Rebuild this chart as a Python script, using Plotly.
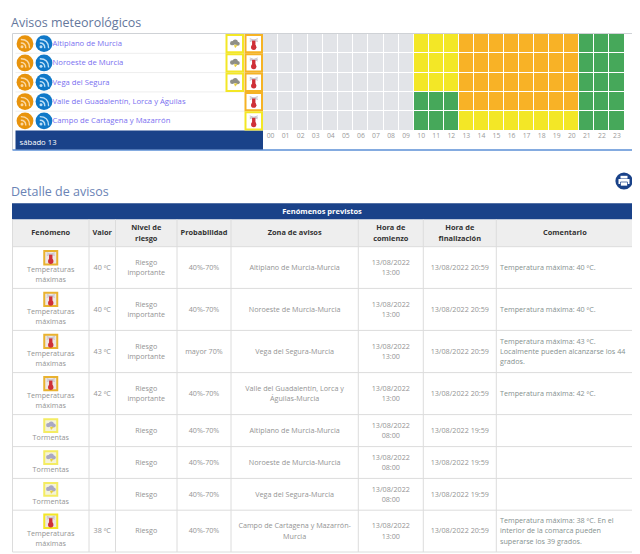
import plotly.graph_objects as go

# top panel data
hours = ['%02d' % h for h in range(24)]
zones = ['Altiplano de Murcia', 'Noroeste de Murcia', 'Vega del Segura',
         'Valle del Guadalentín, Lorca y Águilas', 'Campo de Cartagena y Mazarrón']
day_label = 'sábado 13'
# 0 no data, 1 green, 2 yellow, 3 orange
levels_altiplano = [0]*10 + [2]*3 + [3]*8 + [1]*3
levels_noroeste = [0]*10 + [2]*3 + [3]*8 + [1]*3
levels_vega = [0]*10 + [2]*3 + [3]*8 + [1]*3
levels_valle = [0]*10 + [1]*3 + [3]*8 + [1]*3
levels_campo = [0]*10 + [1]*3 + [2]*8 + [1]*3
storm_icon = [True, True, True, False, False]
heat_border = ['#f5b324', '#f5b324', '#f5b324', '#f5b324', '#f3e726']

# table data
headers = ['Fenómeno', 'Valor', 'Nivel de<br>riesgo', 'Probabilidad', 'Zona de avisos',
           'Hora de<br>comienzo', 'Hora de<br>finalización', 'Comentario']
fenomeno = ['Temperaturas<br>máximas']*4 + ['Tormentas']*3 + ['Temperaturas<br>máximas']
valor = ['40 ºC', '40 ºC', '43 ºC', '42 ºC', '', '', '', '38 ºC']
riesgo = ['Riesgo<br>importante']*4 + ['Riesgo']*4
probabilidad = ['40%-70%', '40%-70%', 'mayor 70%', '40%-70%', '40%-70%', '40%-70%', '40%-70%', '40%-70%']
zona = ['Altiplano de Murcia-Murcia', 'Noroeste de Murcia-Murcia', 'Vega del Segura-Murcia',
        'Valle del Guadalentín, Lorca y<br>Águilas-Murcia', 'Altiplano de Murcia-Murcia',
        'Noroeste de Murcia-Murcia', 'Vega del Segura-Murcia',
        'Campo de Cartagena y Mazarrón-<br>Murcia']
comienzo = ['13/08/2022<br>13:00']*4 + ['13/08/2022<br>08:00']*3 + ['13/08/2022<br>13:00']
fin = ['13/08/2022 20:59']*4 + ['13/08/2022 19:59']*3 + ['13/08/2022 20:59']
comentario = ['Temperatura máxima: 40 ºC.', 'Temperatura máxima: 40 ºC.',
              'Temperatura máxima: 43 ºC.<br>Localmente pueden alcanzarse los 44<br>grados.',
              'Temperatura máxima: 42 ºC.', '', '', '',
              'Temperatura máxima: 38 ºC. En el<br>interior de la comarca pueden<br>superarse los 39 grados.']

# layout, in page pixels. the page body has an 8px margin so the figure starts at 8,8
col_edges = [12.5, 89, 115.5, 177, 231, 358.3, 423.3, 496.3, 633.5]
row_edges = [246.7, 288.4, 330.4, 372.6, 414.6, 446.6, 478.4, 510.2, 552]
top_rows = [34, 53.3, 72.6, 91.9, 111.2, 130.5]
PAGE_W, PAGE_H = 640, 554
OFF = 8
W, H = PAGE_W-OFF, PAGE_H-OFF
LINE = 10.3
FONT = 'Open Sans'
NAVY = '#1a4289'
TXT = '#949494'

fig = go.Figure()
shapes = []


def rect(x0, y0, x1, y1, fill=None, line=None, width=1, layer='above'):
    shapes.append(dict(type='rect', xref='x2', yref='y2', x0=x0, y0=y0, x1=x1, y1=y1, layer=layer,
                       fillcolor=fill or 'rgba(0,0,0,0)',
                       line=dict(color=line or 'rgba(0,0,0,0)', width=width if line else 0)))


def circle(cx, cy, r, fill):
    shapes.append(dict(type='circle', xref='x2', yref='y2', x0=cx-r, y0=cy-r, x1=cx+r, y1=cy+r,
                       fillcolor=fill, line=dict(width=0)))


def path(d, color, width=1, fill=None):
    shapes.append(dict(type='path', xref='x2', yref='y2', path=d,
                       fillcolor=fill or 'rgba(0,0,0,0)', line=dict(color=color, width=width)))


def hline(x0, x1, y, color='#dcdcdc', width=1):
    shapes.append(dict(type='line', xref='x2', yref='y2', x0=x0, x1=x1, y0=y, y1=y, layer='below',
                       line=dict(color=color, width=width)))


def vline(x, y0, y1, color='#dcdcdc', width=1):
    shapes.append(dict(type='line', xref='x2', yref='y2', x0=x, x1=x, y0=y0, y1=y1, layer='below',
                       line=dict(color=color, width=width)))


def rss(cx, cy, bg, glyph):
    circle(cx, cy, 8.4, bg)
    circle(cx-3, cy+3.2, 1.5, glyph)
    path('M %f %f Q %f %f %f %f' % (cx-4.2, cy-0.6, cx+0.8, cy-0.6, cx+0.8, cy+4.6), glyph, 1.4)
    path('M %f %f Q %f %f %f %f' % (cx-4.2, cy-4.2, cx+4.6, cy-4.2, cx+4.6, cy+4.6), glyph, 1.4)


def cloud_icon(x0, y0, x1, y1, border, cloud='#8f8f86', inner='#ffffff', bw=2):
    rect(x0, y0, x1, y1, fill=inner, line=border, width=bw)
    cx, cy = (x0+x1)/2, (y0+y1)/2
    circle(cx-2.5, cy-0.5, 2.2, cloud)
    circle(cx+0.5, cy-1.6, 2.6, cloud)
    circle(cx+3, cy, 2, cloud)
    path('M %f %f L %f %f L %f %f Z' % (cx-0.5, cy+1.5, cx+2.5, cy+1.5, cx+0.5, cy+4), '#e8cf3a', 0.5, '#e8cf3a')


def heat_icon(x0, y0, x1, y1, border, inner='#ffffff', bw=2):
    rect(x0, y0, x1, y1, fill=inner, line=border, width=bw)
    cx, cy = (x0+x1)/2, (y0+y1)/2
    path('M %f %f L %f %f M %f %f L %f %f M %f %f L %f %f' % (cx-4, cy-5, cx+4, cy-2, cx+4, cy-5, cx-4, cy-2,
                                                              cx-4, cy-3.5, cx+4, cy-3.5), '#c9c4cc', 1)
    rect(cx-1.7, cy-3, cx+1.7, cy+3, fill='#cf3038')
    circle(cx, cy+3.6, 2.7, '#cf3038')


# heatmap of the warning levels, through its own category axes
levels = [levels_altiplano, levels_noroeste, levels_vega, levels_valle, levels_campo]
fig.add_trace(go.Heatmap(z=levels, x=hours, y=zones, xgap=1, ygap=1, zmin=0, zmax=3, showscale=False,
                         hoverinfo='skip', xaxis='x', yaxis='y',
                         colorscale=[[0, '#e2e4e8'], [0.25, '#e2e4e8'], [0.25, '#46a85a'], [0.5, '#46a85a'],
                                     [0.5, '#f3e726'], [0.75, '#f3e726'], [0.75, '#f8b226'], [1, '#f8b226']]))


def add_text(xs, ys, texts, size, color, pos='middle center', bold=False):
    # each line is its own point, the line height of svg text is too tight for this font size
    px, py, pt = [], [], []
    for x, y, t in zip(xs, ys, texts):
        parts = t.split('<br>')
        for n, part in enumerate(parts):
            px.append(x)
            py.append(y + 0.6 + (n - (len(parts)-1)/2)*LINE)
            pt.append('<b>%s</b>' % part if bold else part)
    fig.add_trace(go.Scatter(x=px, y=py, text=pt, mode='text', textposition=pos, hoverinfo='skip',
                             textfont=dict(family=FONT, size=size, color=color),
                             xaxis='x2', yaxis='y2', showlegend=False))


# top panel frame
vline(12.5, 33.5, 150, '#cfd2d6')
vline(634, 33.5, 150, '#cfd2d6')
hline(12.5, 634, 33.5, '#cfd2d6')
hline(12.5, 634, 150, '#5b8fd6', 1.6)
rect(15.5, 130.5, 263, 149.5, fill=NAVY, layer='below')
for i in range(5):
    y0, y1 = top_rows[i], top_rows[i+1]
    cy = (y0+y1)/2
    if i > 0:
        hline(15.5, 263, y0, '#eeeeee')
    rss(25, cy, '#e8930c', '#fbd9a5')
    rss(44, cy, '#0f78c8', '#bfe0f7')
    if storm_icon[i]:
        cloud_icon(226.5, y0+1, 243, y1-1, '#f3e726')
    heat_icon(245.5, y0+1, 262, y1-1, heat_border[i])

add_text([52.5]*5, [(top_rows[i]+top_rows[i+1])/2 for i in range(5)], zones, 7.7, '#7a6ff0', 'middle right')
add_text([19.5], [142], [day_label], 7.7, '#ffffff', 'middle right')
add_text([11], [23], ['Avisos meteorológicos'], 12.5, '#64779c', 'middle right')
add_text([11], [192.5], ['Detalle de avisos'], 12.5, '#6a83b5', 'middle right')

# print button
circle(624, 181, 8.6, NAVY)
rect(620.5, 175.8, 627.5, 178.5, fill='#ffffff')
rect(618.5, 179, 629.5, 184, fill='#ffffff')
rect(620.5, 182, 627.5, 186, fill='#ffffff', line=NAVY, width=0.7)

# table
rect(12, 203.3, 633.5, 219.4, fill=NAVY, layer='below')
rect(12.5, 219.4, 633.5, 246.7, fill='#eeeeee', layer='below')
for x in col_edges:
    vline(x, 219.4, row_edges[-1])
for y in row_edges:
    hline(col_edges[0], col_edges[-1], y)

add_text([322], [211.5], ['Fenómenos previstos'], 7.5, '#ffffff', bold=True)
col_mid = [(col_edges[i]+col_edges[i+1])/2 for i in range(8)]
add_text(col_mid, [233]*8, headers, 7.4, '#333333', bold=True)

row_mid = [(row_edges[i]+row_edges[i+1])/2 for i in range(8)]
for c, column in enumerate([valor, riesgo, probabilidad, zona, comienzo, fin]):
    add_text([col_mid[c+1]]*8, row_mid, column, 7.2, TXT)
add_text([500]*8, row_mid, comentario, 7.2, '#86918f', 'middle right')

for i in range(8):
    top = row_edges[i]
    lines = fenomeno[i].count('<br>')
    mid = col_mid[0]
    add_text([mid], [top+23+lines*LINE/2], [fenomeno[i]], 7.2, TXT)
    if lines:
        border = '#f3e726' if i == 7 else '#e9b22f'
        heat_icon(mid-6.5, top+4.3, mid+6.5, top+17.7, border, inner='#eee7e4')
    else:
        cloud_icon(mid-6.5, top+4.7, mid+6.5, top+17.3, '#f4ec62', cloud='#a9a8c4', inner='#f4f3d8')

fig.update_layout(
    width=W, height=H, margin=dict(l=0, r=0, t=0, b=0), showlegend=False,
    paper_bgcolor='white', plot_bgcolor='rgba(0,0,0,0)', shapes=shapes,
    xaxis=dict(domain=[(263-OFF)/W, (624.5-OFF)/W], type='category', side='bottom', showgrid=False, zeroline=False,
               ticks='', tickfont=dict(family=FONT, size=6.8, color='#9a9a9a'), tickangle=0, anchor='y',
               tickmode='array', tickvals=hours, ticktext=hours),
    yaxis=dict(domain=[1-(130.5-OFF)/H, 1-(34-OFF)/H], autorange='reversed', showticklabels=False, showgrid=False,
               zeroline=False, ticks='', anchor='x'),
    xaxis2=dict(domain=[0, 1], range=[OFF, PAGE_W], visible=False, anchor='y2'),
    yaxis2=dict(domain=[0, 1], range=[PAGE_H, OFF], visible=False, anchor='x2'),
)

fig.write_html("out.html")
